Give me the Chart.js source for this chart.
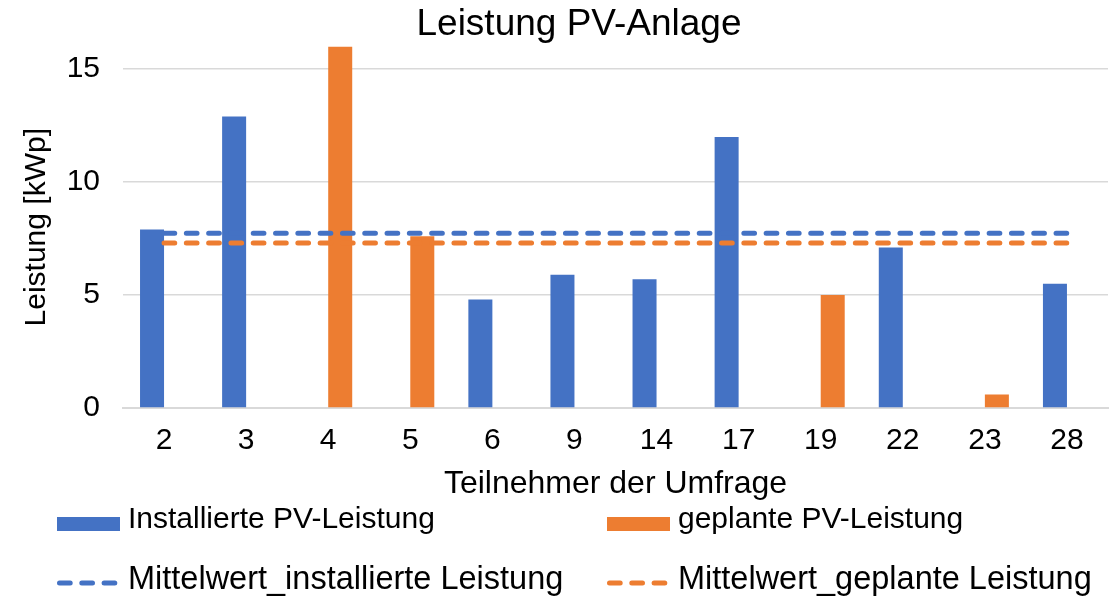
<!DOCTYPE html>
<html>
<head>
<meta charset="utf-8">
<title>Leistung PV-Anlage</title>
<script src="https://cdn.jsdelivr.net/npm/chart.js@4"></script>
<style>
  html, body { margin: 0; padding: 0; background: #fff; }
  #wrap { width: 1119px; height: 598px; }
</style>
</head>
<body>
<div id="wrap"><canvas id="c" width="1119" height="598"></canvas></div>
<script>
// Survey participants (x-axis categories)
const participants = ['2', '3', '4', '5', '6', '9', '14', '17', '19', '22', '23', '28'];

// Installed PV capacity per participant [kWp]
const installed = [7.9, 12.9, null, null, 4.8, 5.9, 5.7, 12.0, null, 7.1, null, 5.5];

// Planned PV capacity per participant [kWp]
const planned = [null, null, 16.0, 7.6, null, null, null, null, 5.0, null, 0.6, null];

// Average lines
const meanInstalled = [7.73, 7.73, 7.73, 7.73, 7.73, 7.73, 7.73, 7.73, 7.73, 7.73, 7.73, 7.73];
const meanPlanned = [7.3, 7.3, 7.3, 7.3, 7.3, 7.3, 7.3, 7.3, 7.3, 7.3, 7.3, 7.3];

// Y axis tick values
const yTicks = [0, 5, 10, 15];

const CHART_TITLE = 'Leistung PV-Anlage';
const BLUE = '#4472C4';
const ORANGE = '#ED7D31';
const GRID = '#d9d9d9';
const FONT = '"Liberation Sans", Arial, sans-serif';
const DASH = [10.7, 11.6];

// Chart title, set slightly left of the plot centre
const chartTitle = {
  id: 'chartTitle',
  afterDraw(chart) {
    const ctx = chart.ctx;
    ctx.save();
    ctx.font = '37px ' + FONT;
    ctx.fillStyle = '#000';
    ctx.textAlign = 'center';
    ctx.textBaseline = 'middle';
    ctx.fillText(CHART_TITLE, 579, 25);
    ctx.restore();
  }
};

// Two-column legend below the x-axis title
const gridLegend = {
  id: 'gridLegend',
  afterDraw(chart) {
    const ctx = chart.ctx;
    const ds = chart.data.datasets;
    const cols = [57, 607];
    const rows = [524, 583];
    const items = [
      { d: ds[0], col: 0, row: 0 },
      { d: ds[1], col: 1, row: 0 },
      { d: ds[2], col: 0, row: 1 },
      { d: ds[3], col: 1, row: 1 }
    ];
    ctx.save();
    ctx.textBaseline = 'middle';
    ctx.textAlign = 'left';
    items.forEach(it => {
      const x = cols[it.col];
      const y = rows[it.row];
      if (it.d.type === 'line') {
        ctx.save();
        ctx.strokeStyle = it.d.borderColor;
        ctx.lineWidth = 5;
        ctx.lineCap = 'round';
        ctx.setLineDash(DASH);
        ctx.beginPath();
        ctx.moveTo(x + 2.5, y);
        ctx.lineTo(x + 61, y);
        ctx.stroke();
        ctx.restore();
        ctx.font = '32.5px ' + FONT;
        ctx.fillStyle = '#000';
        ctx.fillText(it.d.label, x + 71, y - 3);
      } else {
        ctx.fillStyle = it.d.backgroundColor;
        ctx.fillRect(x, y - 7, 63, 14);
        ctx.font = '30px ' + FONT;
        ctx.fillStyle = '#000';
        ctx.fillText(it.d.label, x + 71, y - 4);
      }
    });
    ctx.restore();
  }
};

new Chart(document.getElementById('c'), {
  data: {
    labels: participants,
    datasets: [
      {
        type: 'bar',
        label: 'Installierte PV-Leistung',
        data: installed,
        backgroundColor: BLUE,
        categoryPercentage: 0.585,
        barPercentage: 1.0,
        order: 2
      },
      {
        type: 'bar',
        label: 'geplante PV-Leistung',
        data: planned,
        backgroundColor: ORANGE,
        categoryPercentage: 0.585,
        barPercentage: 1.0,
        order: 2
      },
      {
        type: 'line',
        label: 'Mittelwert_installierte Leistung',
        data: meanInstalled,
        borderColor: BLUE,
        borderWidth: 5,
        borderDash: DASH,
        borderCapStyle: 'round',
        pointRadius: 0,
        fill: false,
        order: 1
      },
      {
        type: 'line',
        label: 'Mittelwert_geplante Leistung',
        data: meanPlanned,
        borderColor: ORANGE,
        borderWidth: 5,
        borderDash: DASH,
        borderCapStyle: 'round',
        pointRadius: 0,
        fill: false,
        order: 1
      }
    ]
  },
  options: {
    responsive: false,
    animation: false,
    events: [],
    layout: { padding: { top: 46.5, left: 0, right: 11, bottom: 95 } },
    plugins: {
      legend: { display: false },
      tooltip: { enabled: false },
      title: { display: false }
    },
    scales: {
      x: {
        offset: true,
        grid: { display: false, drawTicks: false },
        border: { display: true, color: GRID, width: 2 },
        ticks: {
          color: '#000',
          padding: 15,
          font: { family: FONT, size: 30 },
          maxRotation: 0,
          autoSkip: false
        },
        title: {
          display: true,
          text: 'Teilnehmer der Umfrage',
          color: '#000',
          font: { family: FONT, size: 32 },
          padding: { top: 0, bottom: 0 }
        },
        afterFit(scale) { scale.height = 95; }
      },
      y: {
        min: 0,
        max: 16,
        grid: { color: GRID, lineWidth: 1.5, drawTicks: false },
        border: { display: false },
        ticks: {
          stepSize: 5,
          color: '#000',
          padding: 23,
          font: { family: FONT, size: 30 }
        },
        afterBuildTicks(scale) {
          scale.ticks = yTicks.map(v => ({ value: v }));
        },
        title: {
          display: true,
          text: 'Leistung [kWp]',
          color: '#000',
          font: { family: FONT, size: 30 },
          padding: { top: 19, bottom: 0 }
        },
        afterFit(scale) { scale.width = 123; }
      }
    }
  },
  plugins: [chartTitle, gridLegend]
});
</script>
</body>
</html>
